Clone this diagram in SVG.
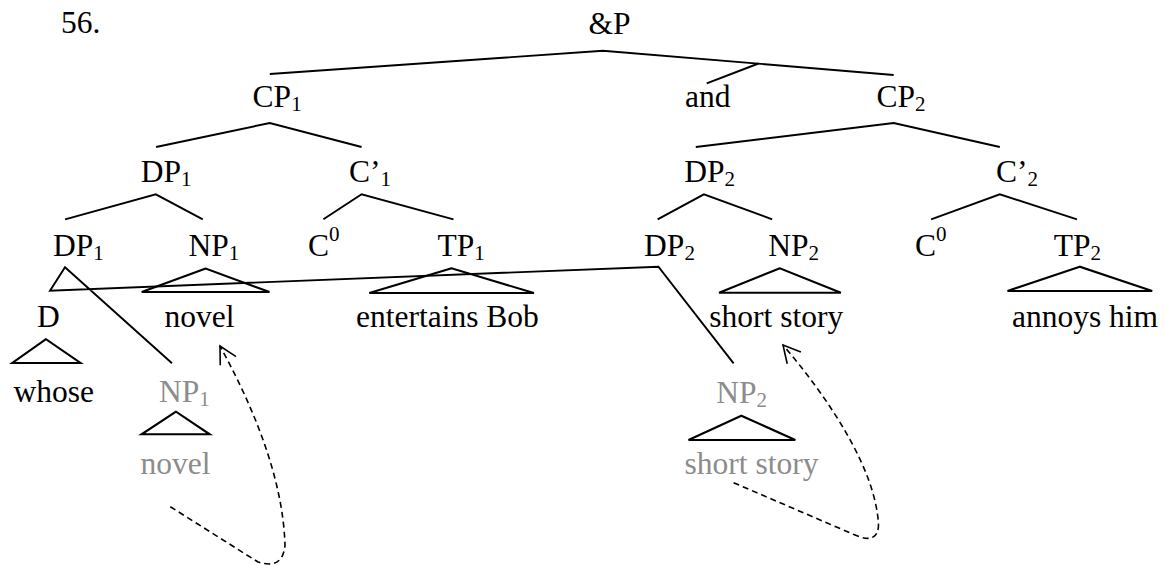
<svg xmlns="http://www.w3.org/2000/svg" width="1165" height="565" viewBox="0 0 1165 565">
<style>
text{font-family:'Liberation Serif','Times New Roman',serif;font-size:31.5px;fill:#000}
.g{fill:#8c8c8c}
.sub{font-size:21px}
.ln{fill:none;stroke:#000;stroke-width:1.9;stroke-linejoin:miter}
.tri{fill:none;stroke:#000;stroke-width:2.1;stroke-linejoin:miter}
.dash{fill:none;stroke:#000;stroke-width:1.6;stroke-dasharray:6 4}
</style>
<defs>
<marker id="open" markerUnits="userSpaceOnUse" viewBox="-20 -12 24 24" refX="0" refY="0" markerWidth="24" markerHeight="24" orient="auto" overflow="visible">
<path d="M-17,-9 L0,0 L-17,9" fill="none" stroke="#000" stroke-width="1.6"/>
</marker>
</defs>
<text x="61" y="33">56.</text>
<g id="andP"><text x="588.5" y="33.5">&amp;P</text></g>
<g id="cp1"><text x="252.6" y="107.3">CP<tspan class="sub" dy="4">1</tspan></text></g>
<g id="and"><text x="685" y="106.5">and</text></g>
<g id="cp2"><text x="876.4" y="107.3">CP<tspan class="sub" dy="4">2</tspan></text></g>
<g id="dp1a"><text x="140.8" y="181.5">DP<tspan class="sub" dy="4">1</tspan></text></g>
<g id="cbar1"><text x="349" y="181.5">C’<tspan class="sub" dy="4">1</tspan></text></g>
<g id="dp2a"><text x="684.2" y="181.5">DP<tspan class="sub" dy="4">2</tspan></text></g>
<g id="cbar2"><text x="996" y="181.5">C’<tspan class="sub" dy="4">2</tspan></text></g>
<g id="dp1b"><text x="53" y="255.5">DP<tspan class="sub" dy="4">1</tspan></text></g>
<g id="np1"><text x="188.5" y="255.5">NP<tspan class="sub" dy="4">1</tspan></text></g>
<g id="c0a"><text x="308" y="255.5">C<tspan class="sub" dy="-15">0</tspan></text></g>
<g id="tp1"><text x="437.4" y="255.5">TP<tspan class="sub" dy="4">1</tspan></text></g>
<g id="dp2b"><text x="644.1" y="255.5">DP<tspan class="sub" dy="4">2</tspan></text></g>
<g id="np2"><text x="768.3" y="255.5">NP<tspan class="sub" dy="4">2</tspan></text></g>
<g id="c0b"><text x="915" y="255.5">C<tspan class="sub" dy="-15">0</tspan></text></g>
<g id="tp2"><text x="1053.8" y="255.5">TP<tspan class="sub" dy="4">2</tspan></text></g>
<g id="d"><text x="37" y="327.3">D</text></g>
<g id="novel"><text x="164.5" y="327.3">novel</text></g>
<g id="entertains"><text x="356" y="327.3">entertains Bob</text></g>
<g id="shortstory"><text x="709.3" y="327.3">short story</text></g>
<g id="annoys"><text x="1012" y="327.3">annoys him</text></g>
<g id="whose"><text x="13.4" y="401.7">whose</text></g>
<g id="np1trace"><text class="g" x="159" y="401.7">NP<tspan class="sub" dy="4">1</tspan></text></g>
<g id="np2trace"><text class="g" x="716.3" y="402.5">NP<tspan class="sub" dy="4">2</tspan></text></g>
<g id="noveltrace"><text class="g" x="140.5" y="474">novel</text></g>
<g id="shortstorytrace"><text class="g" x="684.6" y="474">short story</text></g>
<g id="connectors">
<polyline class="ln" points="269.8,74 603,50.7 893.7,75"/>
<line class="ln" x1="758.5" y1="63.5" x2="706.7" y2="83.3"/>
<polyline class="ln" points="156.1,147 269.8,123 361.6,147"/>
<polyline class="ln" points="695.8,147 893.7,123 999.8,147"/>
<polyline class="ln" points="65.1,219.3 155.8,194.3 202.8,219.3"/>
<polyline class="ln" points="323.4,219.3 361.6,194.3 453.5,219.3"/>
<polyline class="ln" points="657.6,219.3 703.9,194.3 772.2,219.3"/>
<polyline class="ln" points="931.1,219.3 999.8,194.3 1077,219.3"/>
<polygon class="tri" points="205.7,268.5 141.7,292 269.5,292"/>
<polygon class="tri" points="451.6,268.3 369.3,293 533.9,293"/>
<polygon class="tri" points="779.9,268.3 719,292.7 840.9,292.7"/>
<polygon class="tri" points="1079.7,266.7 1007.5,291 1152.2,291"/>
<polygon class="tri" points="46,339.2 12.3,363 80.5,363"/>
<polygon class="tri" points="176,411.7 141.6,434.3 209.7,434.3"/>
<polygon class="tri" points="741.3,415.7 688.5,440 795.3,440"/>
<polyline class="ln" points="172,363.3 65,267.2 50,290.7 658.4,266.7 733.6,363.3"/>
<path class="dash" d="M170.3,506.7 L258,562 Q283,570 285,545 C283,480 255,410 220,346" marker-end="url(#open)"/>
<path class="dash" d="M733.6,482.7 L855,535 Q878,545 878.5,525 C876,470 830,400 783,345" marker-end="url(#open)"/>
</g>
</svg>
